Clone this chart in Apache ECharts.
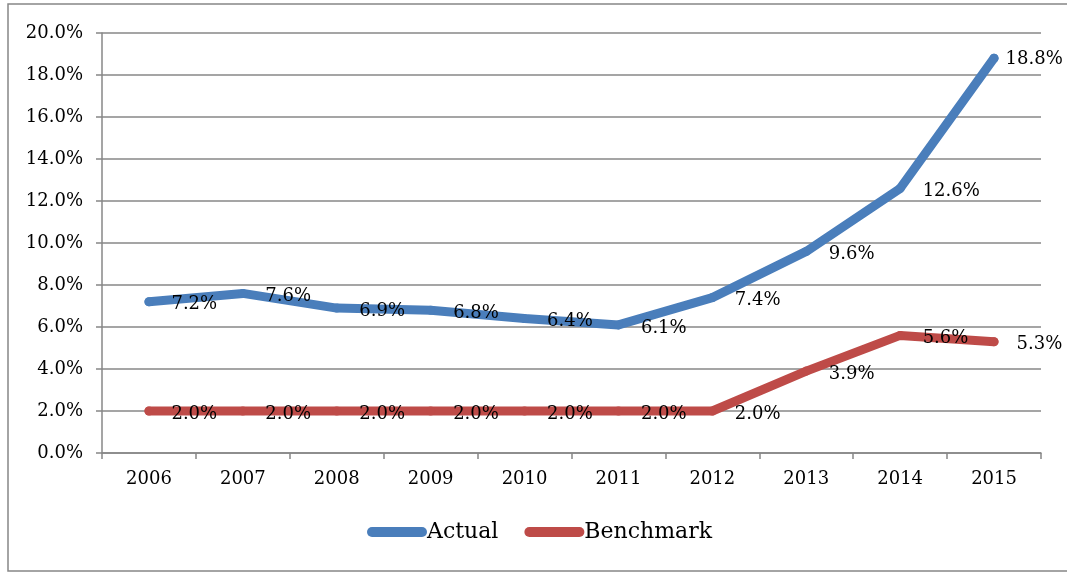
<!DOCTYPE html>
<html>
<head>
<meta charset="utf-8">
<title>Actual vs Benchmark</title>
<script src="https://cdn.jsdelivr.net/npm/echarts@6/dist/echarts.min.js"></script>
<style>
  html, body { margin: 0; padding: 0; background: #fff; overflow: hidden; }
  #chart { width: 1067px; height: 572px; }
</style>
</head>
<body>
<div id="chart"></div>
<script>
// 数据
var years = ['2006', '2007', '2008', '2009', '2010', '2011', '2012', '2013', '2014', '2015'];
var actual = [7.2, 7.6, 6.9, 6.8, 6.4, 6.1, 7.4, 9.6, 12.6, 18.8];
var benchmark = [2.0, 2.0, 2.0, 2.0, 2.0, 2.0, 2.0, 3.9, 5.6, 5.3];

var serif = 'DejaVu Serif';
var gray = '#878787';

function pct(v) { return v.toFixed(1) + '%'; }

// 最后一个点的标签贴得更近一些 (Excel 自动挪的)
var actualData = actual.map(function (v, i) {
    if (i === actual.length - 1) {
        return { value: v, label: { distance: 7, offset: [0, 1] } };
    }
    return v;
});

function lineSeries(name, data, color) {
    return {
        name: name,
        type: 'line',
        data: data,
        symbol: 'circle',
        symbolSize: 9,
        itemStyle: { color: color, borderWidth: 0 },
        lineStyle: { color: color, width: 9, cap: 'round', join: 'round' },
        label: {
            show: true,
            position: 'right',
            distance: 18,
            offset: [0, 3],
            fontFamily: serif,
            fontSize: 18,
            color: '#000',
            formatter: function (p) { return pct(p.value); }
        },
        emphasis: { disabled: true },
        animation: false
    };
}

var chart = echarts.init(document.getElementById('chart'));
var option = {
    backgroundColor: '#fff',
    animation: false,
    grid: { left: 102, right: 26, top: 33, bottom: 119 },
    // 外框: 只有上、左、下三条边
    graphic: [{
        type: 'polyline',
        shape: { points: [[1067, 4], [8, 4], [8, 571], [1067, 571]] },
        style: { fill: 'none', stroke: gray, lineWidth: 1.5 },
        silent: true
    }],
    legend: {
        left: 362,
        top: 516,
        itemWidth: 60,
        itemHeight: 10,
        itemGap: 26,
        icon: 'path://M5,0 H55 A5,5 0 0 1 55,10 H5 A5,5 0 0 1 5,0 Z',
        textStyle: { fontFamily: serif, fontSize: 22, color: '#000', padding: [0, 0, 0, -5] },
        data: ['Actual', 'Benchmark']
    },
    xAxis: {
        type: 'category',
        data: years,
        boundaryGap: true,
        axisLine: { lineStyle: { color: gray, width: 1.5 } },
        axisTick: { show: true, length: 6, lineStyle: { color: gray, width: 1.5 } },
        axisLabel: { fontFamily: serif, fontSize: 18, color: '#000', margin: 17 },
        splitLine: { show: false }
    },
    yAxis: {
        type: 'value',
        min: 0,
        max: 20,
        interval: 2,
        axisLine: { show: true, lineStyle: { color: gray, width: 1.5 } },
        axisTick: { show: true, length: 6, lineStyle: { color: gray, width: 1.5 } },
        axisLabel: {
            fontFamily: serif, fontSize: 18, color: '#000', margin: 19,
            formatter: function (v) { return pct(v); }
        },
        splitLine: { lineStyle: { color: gray, width: 1.5 } }
    },
    series: [
        lineSeries('Actual', actualData, '#4a7ebb'),
        lineSeries('Benchmark', benchmark, '#be4b48')
    ]
};
chart.setOption(option);
</script>
</body>
</html>
